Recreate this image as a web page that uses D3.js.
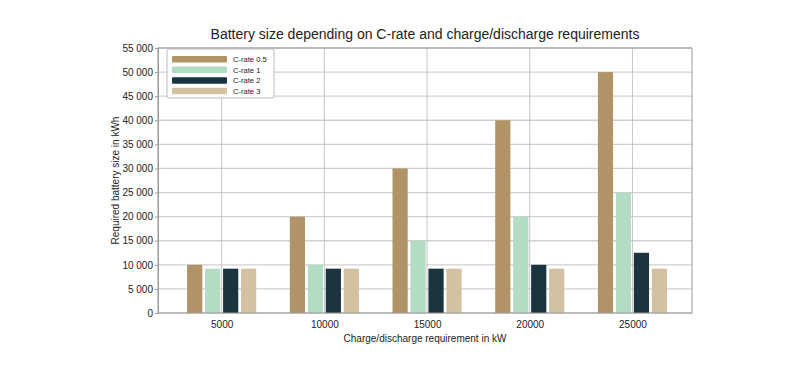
<!DOCTYPE html>
<html>
<head>
<meta charset="utf-8">
<script src="https://cdn.jsdelivr.net/npm/d3@7"></script>
<style>
  body { margin: 0; background: #fff; }
  text { font-family: "Liberation Sans", Arial, sans-serif; fill: #222; }
</style>
</head>
<body>
<div id="chart"></div>
<script>
// chart data
var categories = ["5000", "10000", "15000", "20000", "25000"];
var seriesNames = ["C-rate 0.5", "C-rate 1", "C-rate 2", "C-rate 3"];
var cRate05 = [10000, 20000, 30000, 40000, 50000];
var cRate1 = [9200, 10000, 15000, 20000, 25000];
var cRate2 = [9200, 9200, 9200, 10000, 12500];
var cRate3 = [9200, 9200, 9200, 9200, 9200];
var yTicks = [0, 5000, 10000, 15000, 20000, 25000, 30000, 35000, 40000, 45000, 50000, 55000];
var colors = ["#b09467", "#b4dcc4", "#1b3540", "#d3c1a2"];

var allSeries = [cRate05, cRate1, cRate2, cRate3];

var W = 791, H = 379;
var margin = { top: 48, right: 99, bottom: 66, left: 158 };
var width = W - margin.left - margin.right,
    height = H - margin.top - margin.bottom;

var svg = d3.select("#chart").append("svg")
    .attr("width", W)
    .attr("height", H);

var g = svg.append("g")
    .attr("transform", "translate(" + margin.left + "," + margin.top + ")");

// x as numeric position of each group (matplotlib style)
var x = d3.scaleLinear().domain([-0.62, 4.58]).range([0, width]);
var y = d3.scaleLinear().domain([0, 55000]).range([height, 0]);

var slot = 0.175, barW = 0.148;

// grid
g.append("g").selectAll("line")
    .data(yTicks)
    .enter().append("line")
    .attr("x1", 0).attr("x2", width)
    .attr("y1", function (d) { return y(d); })
    .attr("y2", function (d) { return y(d); })
    .attr("stroke", "#d0d0d0")
    .attr("stroke-width", 1.3);

g.append("g").selectAll("line")
    .data(categories)
    .enter().append("line")
    .attr("x1", function (d, i) { return x(i); })
    .attr("x2", function (d, i) { return x(i); })
    .attr("y1", 0).attr("y2", height)
    .attr("stroke", "#b8b8b8")
    .attr("stroke-width", 0.8);

// bars
allSeries.forEach(function (vals, s) {
    g.append("g").selectAll("rect")
        .data(vals)
        .enter().append("rect")
        .attr("x", function (d, i) { return x(i + (s - 1.5) * slot - barW / 2); })
        .attr("y", function (d) { return y(d); })
        .attr("width", x(barW) - x(0))
        .attr("height", function (d) { return height - y(d); })
        .attr("fill", colors[s]);
});

// frame
g.append("rect")
    .attr("width", width).attr("height", height)
    .attr("fill", "none")
    .attr("stroke", "#9a9a9a")
    .attr("stroke-width", 1);

// y axis
var yAxis = g.append("g")
    .call(d3.axisLeft(y).tickValues(yTicks).tickSize(3).tickPadding(2)
        .tickFormat(function (d) { return d3.format(",")(d).replace(/,/g, " "); }));
yAxis.select(".domain").attr("stroke", "#9a9a9a");
yAxis.selectAll(".tick line").attr("stroke", "#9a9a9a");
yAxis.selectAll("text").style("font-size", "10px").attr("fill", "#222");

// x axis
var xAxis = g.append("g")
    .attr("transform", "translate(0," + height + ")")
    .call(d3.axisBottom(x).tickValues(d3.range(categories.length)).tickSize(0).tickPadding(8)
        .tickFormat(function (d) { return categories[d]; }));
xAxis.select(".domain").remove();
xAxis.selectAll("text").style("font-size", "10px").attr("fill", "#222");

// title
svg.append("text")
    .attr("x", margin.left + width / 2)
    .attr("y", 39)
    .attr("text-anchor", "middle")
    .style("font-size", "14px")
    .text("Battery size depending on C-rate and charge/discharge requirements");

// axis labels
svg.append("text")
    .attr("x", margin.left + width / 2)
    .attr("y", 342)
    .attr("text-anchor", "middle")
    .style("font-size", "10px")
    .text("Charge/discharge requirement in kW");

svg.append("text")
    .attr("transform", "rotate(-90)")
    .attr("x", -(margin.top + height / 2))
    .attr("y", 119)
    .attr("text-anchor", "middle")
    .style("font-size", "10px")
    .text("Required battery size in kWh");

// legend
var legend = g.append("g").attr("transform", "translate(9,1)");
legend.append("rect")
    .attr("width", 107).attr("height", 49)
    .attr("rx", 2)
    .attr("fill", "#fff")
    .attr("stroke", "#bbb");
seriesNames.forEach(function (name, i) {
    var row = legend.append("g").attr("transform", "translate(5," + (10 + i * 10.6) + ")");
    row.append("rect")
        .attr("x", 0).attr("y", -3)
        .attr("width", 55).attr("height", 6.5)
        .attr("rx", 1)
        .attr("fill", colors[i]);
    row.append("text")
        .attr("x", 61).attr("y", 3)
        .style("font-size", "7.6px")
        .text(name);
});
</script>
</body>
</html>
